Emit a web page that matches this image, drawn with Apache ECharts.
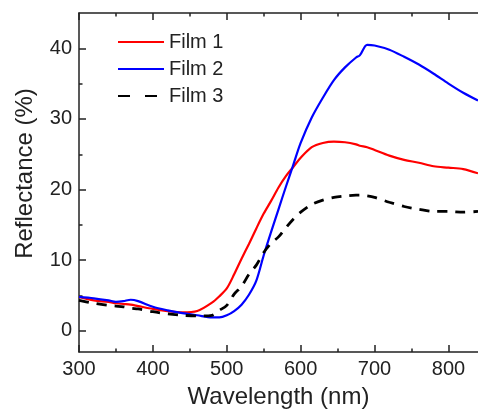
<!DOCTYPE html>
<html>
<head>
<meta charset="utf-8">
<script src="https://cdn.jsdelivr.net/npm/echarts@6/dist/echarts.min.js"></script>
<style>html,body{margin:0;padding:0;background:#fff;}#c{width:478px;height:410px;}</style>
</head>
<body>
<div id="c"></div>
<script>
const wavelength = [300,320,340,350,360,370,380,400,420,440,460,480,490,500,510,520,530,540,550,560,570,580,590,600,615,630,645,660,675,680,690,700,720,740,760,780,800,820,840];
const film1 = [4.8,4.3,4.1,3.9,3.8,3.7,3.5,3.1,2.8,2.6,2.8,4.0,4.9,6.0,8.0,10.2,12.3,14.5,16.6,18.4,20.3,21.9,23.2,24.5,26.0,26.6,26.8,26.7,26.4,26.2,26.0,25.6,24.8,24.2,23.8,23.3,23.1,22.9,22.3];
const film2 = [4.8,4.6,4.3,4.1,4.2,4.4,4.2,3.4,2.9,2.5,2.2,1.9,1.9,2.2,2.8,3.7,5.1,7.1,10.7,14.0,17.2,20.4,23.5,26.6,30.2,33.0,35.5,37.3,38.7,39.0,40.5,40.4,39.8,38.8,37.7,36.4,35.0,33.7,32.6];
const film3 = [4.3,3.9,3.6,3.5,3.4,3.2,3.1,2.7,2.4,2.2,2.1,2.2,2.9,3.6,5.2,6.3,8.0,9.3,11.1,12.4,13.3,14.6,15.8,16.8,17.9,18.5,18.9,19.1,19.2,19.2,19.1,18.9,18.2,17.6,17.2,16.9,16.9,16.8,16.9];
const seriesNames = ['Film 1','Film 2','Film 3'];
const xTicks = [300,400,500,600,700,800];
const xMinorTicks = [350,450,550,650,750];
const yTicks = [0,10,20,30,40];
const yMinorTicks = [5,15,25,35];

const pair = (ys) => wavelength.map((w, i) => [w, ys[i]]);
const font = 'Liberation Sans, Arial, sans-serif';
const axisColor = '#222';

function xAx(pos, ticks, len, labels, line) {
  return {
    type: 'value', position: pos, min: 300, max: 840,
    axisLine: {show: line, onZero: false, lineStyle: {color: axisColor, width: 1.5}},
    axisTick: {show: true, inside: true, length: len, customValues: ticks, lineStyle: {color: axisColor, width: 1.5}},
    axisLabel: {show: labels, customValues: xTicks, fontSize: 20, color: '#222', fontFamily: font, margin: 7},
    splitLine: {show: false},
    name: labels ? 'Wavelength (nm)' : '', nameLocation: 'middle', nameGap: 33,
    nameTextStyle: {fontSize: 24, color: '#222', fontFamily: font}
  };
}
function yAx(ticks, len, labels, line) {
  return {
    type: 'value', position: 'left', min: -3, max: 45,
    axisLine: {show: line, onZero: false, lineStyle: {color: axisColor, width: 1.5}},
    axisTick: {show: true, inside: true, length: len, customValues: ticks, lineStyle: {color: axisColor, width: 1.5}},
    axisLabel: {show: labels, customValues: yTicks, fontSize: 20, color: '#222', fontFamily: font, margin: 7},
    splitLine: {show: false},
    name: labels ? 'Reflectance (%)' : '', nameLocation: 'middle', nameGap: 42,
    nameTextStyle: {fontSize: 24, color: '#222', fontFamily: font, padding: [0, 0, 0, 18]}
  };
}

const chart = echarts.init(document.getElementById('c'), null, {renderer: 'canvas'});
chart.setOption({
  animation: false,
  backgroundColor: '#fff',
  grid: {left: 79, right: 0, top: 13, bottom: 58, containLabel: false, outerBoundsMode: 'none'},
  legend: {
    orient: 'vertical', left: 117, top: 32, padding: 0, itemWidth: 46, itemHeight: 10, itemGap: 7,
    itemStyle: {opacity: 0},
    textStyle: {fontSize: 20, color: '#222', fontFamily: font, lineHeight: 20},
    data: [
      {name: seriesNames[0]},
      {name: seriesNames[1]},
      {name: seriesNames[2], lineStyle: {type: [12, 15]}}
    ]
  },
  xAxis: [
    xAx('bottom', xTicks, 7, true, true),
    xAx('bottom', xMinorTicks, 3.5, false, false),
    xAx('top', xTicks, 7, false, true),
    xAx('top', xMinorTicks, 3.5, false, false)
  ],
  yAxis: [
    yAx(yTicks, 7, true, true),
    yAx(yMinorTicks, 3.5, false, false)
  ],
  series: [
    {name: seriesNames[0], type: 'line', data: pair(film1), symbol: 'none', smooth: 0.3,
     lineStyle: {color: '#ff0000', width: 2.2}, itemStyle: {color: '#ff0000'}},
    {name: seriesNames[1], type: 'line', data: pair(film2), symbol: 'none', smooth: 0.3,
     lineStyle: {color: '#0000ff', width: 2.2}, itemStyle: {color: '#0000ff'}},
    {name: seriesNames[2], type: 'line', data: pair(film3), symbol: 'none', smooth: 0.3,
     lineStyle: {color: '#000000', width: 2.8, type: [10, 8]}, itemStyle: {color: '#000000'}}
  ]
});
</script>
</body>
</html>
